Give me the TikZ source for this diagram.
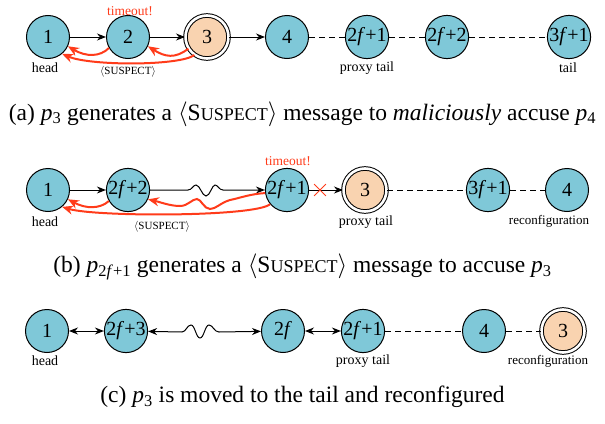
\documentclass[tikz,border=0pt]{standalone}
\usepackage{fontspec}
\setmainfont{Liberation Serif}
\usetikzlibrary{arrows.meta,shapes.misc}

\definecolor{procblue}{HTML}{7FC8D8}
\definecolor{faultpeach}{HTML}{F9D3B0}
\definecolor{alarmred}{HTML}{FF3B1A}

\newcommand{\fv}{\textit{f}}
\newcommand{\pname}[1]{\textit{p}\textsubscript{#1}}
\newcommand{\suspmsg}{$\langle$S{\fontsize{18}{18}\selectfont USPECT}$\rangle$}

\begin{document}
\begin{tikzpicture}[x=1pt, y=-1pt,
		proc/.style={circle, draw, line width=1pt, fill=procblue, minimum size=43pt, inner sep=0pt, font=\fontsize{20}{20}\selectfont},
		faulty/.style={proc, fill=faultpeach, double, double distance=2.6pt},
		tag/.style={font=\fontsize{14}{14}\selectfont},
		smalltag/.style={font=\fontsize{13}{13}\selectfont},
		alarm/.style={text=alarmred, font=\fontsize{13.5}{13.5}\selectfont},
		msg/.style={font=\fontsize{11}{11}\selectfont},
		caption/.style={font=\fontsize{23.5}{28}\selectfont},
		link/.style={line width=1pt, -{Stealth[length=9pt, width=7pt]}},
		twoway/.style={line width=1pt, {Stealth[length=9pt, width=7pt]}-{Stealth[length=9pt, width=7pt]}},
		chain/.style={line width=1pt, dash pattern=on 6pt off 4pt},
		accuse/.style={line width=2pt, draw=alarmred, -{Stealth[length=11pt, width=9pt]}}
		]
		\useasboundingbox (0,0) rectangle (605,423);
		
		% (a) p3 accuses p4
		\node[proc] (a1) at (48,37) {1};
		\node[proc] (a2) at (128,37) {2};
		\node[faulty] (a3) at (207,37) {3};
		\node[proc] (a4) at (287,37) {4};
		\node[proc] (a5) at (367,37) {2\fv+1};
		\node[proc] (a6) at (447,37) {2\fv+2};
		\node[proc] (a7) at (569,37) {3\fv+1};
		
		\node[tag] (headA) at (45,68) {head};
		\node[tag] (proxyA) at (367,68) {proxy tail};
		\node[tag] (tailA) at (568,68) {tail};
		\node[alarm] (timeoutA) at (130,11) {timeout!};
		\node[msg] (suspA) at (128,72) {$\langle$SUSPECT$\rangle$};
		
		\draw[link] (a1) -- (a2);
		\draw[link] (a2) -- (a3);
		\draw[link] (a3) -- (a4);
		\draw[chain] (a4) -- (a5);
		\draw[chain] (a5) -- (a6);
		\draw[chain] (a6) -- (a7);
		
		\draw[accuse] (a2.-150) .. controls (100,57) and (86,57) .. (a1.-25);
		\draw[accuse] (a3.-148) .. controls (175,59) and (165,57) .. (a2.-25);
		\draw[accuse] (a3.-125) .. controls (180,66) and (90,66) .. (a1.-50);
		
		\node[caption] (capA) at (302.5,114) {(a) \pname{3} generates a \suspmsg{} message to \textit{maliciously} accuse \pname{4}};
		
		% (b) p2f+1 accuses p3
		\node[proc] (b1) at (48,190) {1};
		\node[proc] (b2) at (128,190) {2\fv+2};
		\node[proc] (b3) at (287,190) {2\fv+1};
		\node[faulty] (b4) at (365,190) {3};
		\node[proc] (b5) at (488,190) {3\fv+1};
		\node[proc] (b6) at (567,190) {4};
		
		\node[tag] (headB) at (45,222) {head};
		\node[tag] (proxyB) at (366,222) {proxy tail};
		\node[smalltag] (reconfB) at (549,221) {reconfiguration};
		\node[alarm] (timeoutB) at (288,161) {timeout!};
		\node[msg] (suspB) at (162,227) {$\langle$SUSPECT$\rangle$};
		
		\draw[link] (b1) -- (b2);
		\draw[link] (b2) -- (188,190) .. controls (192,190) and (193,185) .. (196,185)
			.. controls (200,185) and (202,196) .. (206,196)
			.. controls (210,196) and (212,185) .. (215,185)
			.. controls (218,185) and (219,190) .. (223,190) -- (b3);
		\draw[link] (b3) -- (b4);
		\node[cross out, draw=alarmred, line width=0.8pt, minimum size=11pt, inner sep=0pt] (cut) at (320,190) {};
		\draw[chain] (b4) -- (b5);
		\draw[chain] (b5) -- (b6);
		
		\draw[accuse] (b2.-150) .. controls (100,209) and (86,209) .. (b1.-25);
		\draw[accuse] (b3.-172) .. controls (250,194) and (240,198) .. (230,200)
			.. controls (220,203) and (216,209) .. (210,209)
			.. controls (204,209) and (201,199) .. (197,199)
			.. controls (192,199) and (188,206) .. (180,206)
			.. controls (170,206) and (160,202) .. (b2.-25);
		\draw[accuse] (b3.-140) .. controls (255,217) and (95,217) .. (b1.-50);
		
		\node[caption] (capB) at (302.5,267) {(b) \pname{2\fv+1} generates a \suspmsg{} message to accuse \pname{3}};
		
		% (c) p3 moved to the tail
		\node[proc] (c1) at (47,331) {1};
		\node[proc] (c2) at (126,331) {2\fv+3};
		\node[proc] (c3) at (283,331) {2\fv};
		\node[proc] (c4) at (363,331) {2\fv+1};
		\node[proc] (c5) at (484,331) {4};
		\node[faulty] (c6) at (563,331) {3};
		
		\node[tag] (headC) at (45,361) {head};
		\node[tag] (proxyC) at (363,361) {proxy tail};
		\node[smalltag] (reconfC) at (548,361) {reconfiguration};
		
		\draw[twoway] (c1) -- (c2);
		\draw[twoway] (c2) -- (182,332) .. controls (186,332) and (187,325) .. (191,325)
			.. controls (195,325) and (196,338) .. (200,338)
			.. controls (204,338) and (205,325) .. (209,325)
			.. controls (213,325) and (214,332) .. (219,332) -- (c3);
		\draw[twoway] (c3) -- (c4);
		\draw[chain] (c4) -- (c5);
		\draw[chain] (c5) -- (c6);
		
		\node[caption] (capC) at (302.5,397) {(c) \pname{3} is moved to the tail and reconfigured};
		
	\end{tikzpicture}
\end{document}
